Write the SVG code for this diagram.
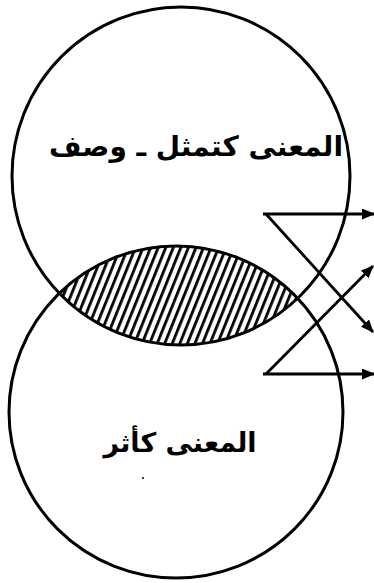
<svg xmlns="http://www.w3.org/2000/svg" width="374" height="583" viewBox="0 0 374 583">
  <style>
    .circle { fill: none; stroke: #000; stroke-width: 3; }
    .conn { fill: none; stroke: #000; stroke-width: 2.8; }
    .label { font-family: "DejaVu Sans", sans-serif; font-weight: bold; fill: #000; text-anchor: middle; direction: rtl; }
  </style>
  <defs>
    <pattern id="hatch" patternUnits="userSpaceOnUse" width="7" height="7" patternTransform="rotate(22)">
      <rect x="0" y="0" width="2.8" height="7" fill="#000"/>
    </pattern>
    <clipPath id="topClip">
      <ellipse cx="181" cy="176" rx="169" ry="169"/>
    </clipPath>
    <marker id="arrow" markerUnits="userSpaceOnUse" markerWidth="13" markerHeight="11" refX="12" refY="5.5" orient="auto">
      <path d="M0,0 L13,5.5 L0,11 Z" fill="#000"/>
    </marker>
  </defs>
  <rect width="374" height="583" fill="#fff"/>

  <g id="lens">
    <ellipse cx="176" cy="412" rx="167" ry="166" fill="url(#hatch)" clip-path="url(#topClip)"/>
  </g>

  <g id="circle-top">
    <ellipse class="circle" cx="181" cy="176" rx="169" ry="169"/>
    <text class="label" x="196" y="156" font-size="28">المعنى كتمثل ـ وصف</text>
  </g>

  <g id="circle-bottom">
    <ellipse class="circle" cx="176" cy="412" rx="167" ry="166"/>
    <text class="label" x="180" y="452" font-size="27">المعنى كأثر</text>
    <circle cx="143" cy="478" r="1" fill="#000"/>
  </g>

  <g id="connectors">
    <line class="conn" x1="263" y1="214" x2="374" y2="214" marker-end="url(#arrow)"/>
    <line class="conn" x1="266" y1="214" x2="373" y2="332" marker-end="url(#arrow)"/>
    <line class="conn" x1="263" y1="374" x2="374" y2="374" marker-end="url(#arrow)"/>
    <line class="conn" x1="266" y1="374" x2="373" y2="266" marker-end="url(#arrow)"/>
  </g>
</svg>
